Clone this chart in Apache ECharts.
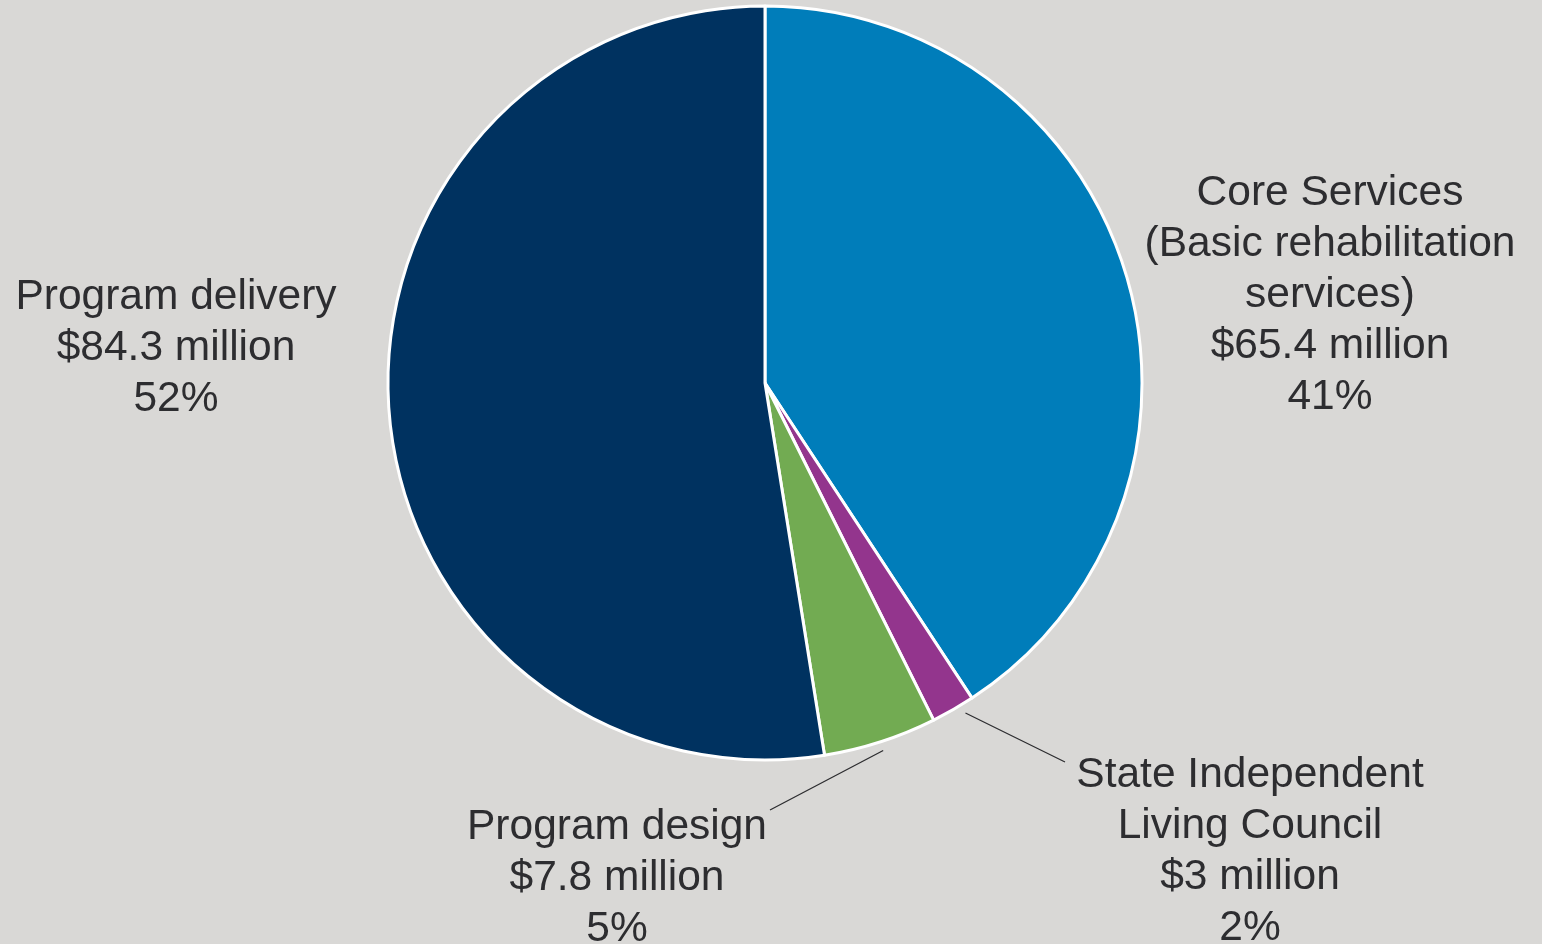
<!DOCTYPE html>
<html>
<head>
<meta charset="utf-8">
<title>Budget breakdown</title>
<script src="https://cdn.jsdelivr.net/npm/echarts@6/dist/echarts.min.js"></script>
<style>
  html, body { margin: 0; padding: 0; background: #d9d8d6; }
  #chart { width: 1542px; height: 944px; }
</style>
</head>
<body>
<div id="chart"></div>
<script>
// Spending categories, clockwise from 12 o'clock
const categories = [
  'Core Services\n(Basic rehabilitation\nservices)',
  'State Independent\nLiving Council',
  'Program design',
  'Program delivery'
];
// Amounts in millions of dollars
const amounts = [65.4, 3, 7.8, 84.3];
// Share of total as published
const shareLabels = ['41%', '2%', '5%', '52%'];
const colors = ['#007dba', '#93358d', '#72ab52', '#003260'];

// Label placement (label centre), leader-line end offsets from that centre,
// and a sideways nudge of the line start along the arc
const labelPlacement = [
  { x: 1330, y: 295 },
  { x: 1250, y: 852, line: { dx: -185, dy: -90, shift: -9 } },
  { x: 617,  y: 878, line: { dx: 153,  dy: -68, shift: 0 } },
  { x: 176,  y: 348 }
];

const chart = echarts.init(document.getElementById('chart'), null, { renderer: 'canvas' });

chart.setOption({
  backgroundColor: '#d9d8d6',
  animation: false,
  series: [{
    type: 'pie',
    center: [765, 383],
    radius: 377,
    startAngle: 90,
    clockwise: true,
    avoidLabelOverlap: false,
    silent: true,
    itemStyle: { borderColor: '#ffffff', borderWidth: 3 },
    data: amounts.map((v, i) => ({
      value: v,
      name: categories[i],
      itemStyle: { color: colors[i] },
      labelLine: { show: !!labelPlacement[i].line }
    })),
    label: {
      show: true,
      position: 'outside',
      fontFamily: '"Liberation Sans", Arial, sans-serif',
      fontSize: 42.5,
      lineHeight: 51,
      color: '#2d2d30',
      align: 'center',
      formatter: p => p.name + '\n$' + p.value + ' million\n' + shareLabels[p.dataIndex]
    },
    labelLine: {
      show: true,
      length: 20,
      length2: 20,
      smooth: false,
      lineStyle: { color: '#2d2d30', width: 1.3 }
    },
    labelLayout: function (params) {
      const pl = labelPlacement[params.dataIndex];
      const out = { x: pl.x, y: pl.y, align: 'center', verticalAlign: 'middle' };
      const pts = params.labelLinePoints;
      if (pl.line && pts && pts.length >= 2) {
        const dx = pts[1][0] - pts[0][0];
        const dy = pts[1][1] - pts[0][1];
        const len = Math.sqrt(dx * dx + dy * dy) || 1;
        const ux = dx / len, uy = dy / len;
        // push the start just off the rim, optionally slide it along the arc
        const start = [
          pts[0][0] + ux * 9 - uy * pl.line.shift,
          pts[0][1] + uy * 9 + ux * pl.line.shift
        ];
        const end = [pl.x + pl.line.dx, pl.y + pl.line.dy];
        const mid = [(start[0] + end[0]) / 2, (start[1] + end[1]) / 2];
        out.labelLinePoints = [start, mid, end];
      }
      return out;
    }
  }]
});
</script>
</body>
</html>
